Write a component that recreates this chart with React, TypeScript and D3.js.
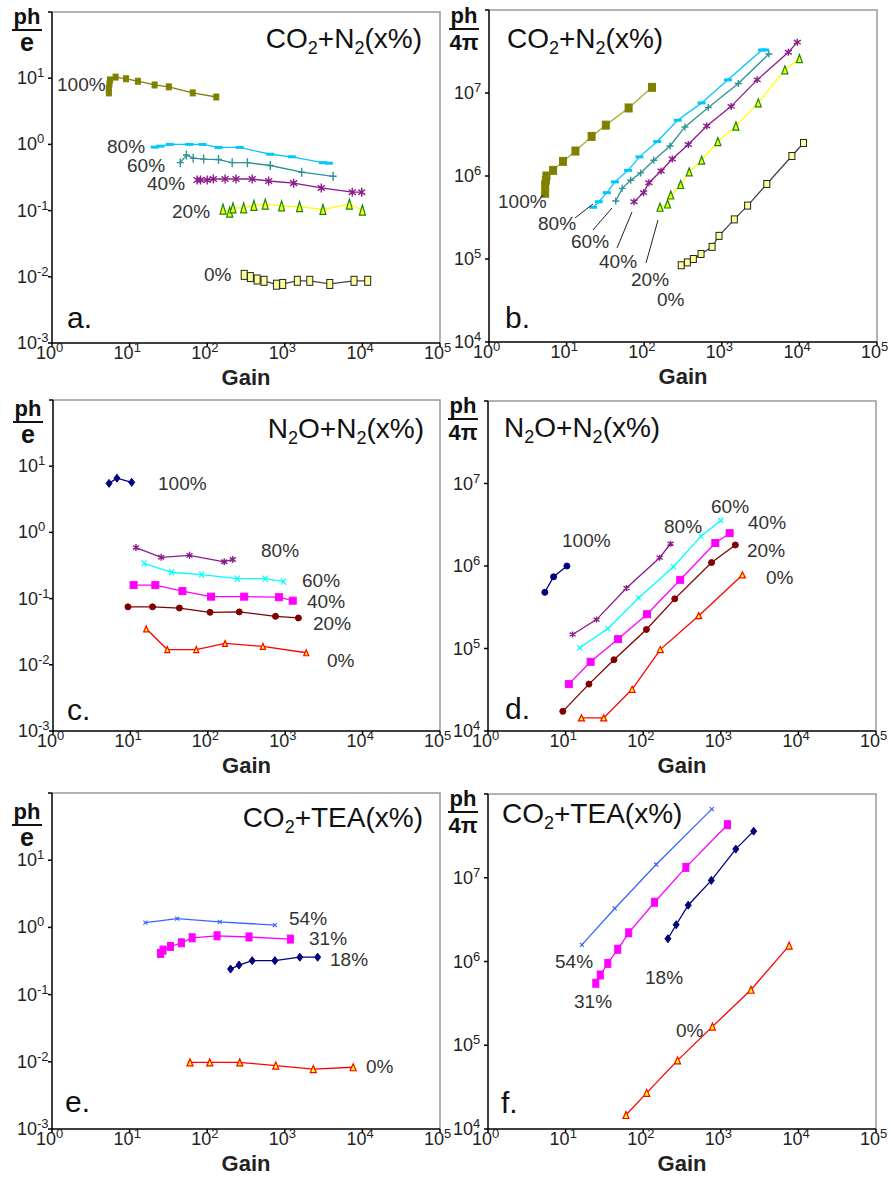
import React from "react";
import * as d3 from "d3";

type Pt = [number, number];

// ---- panel a: CO2+N2, ph/e ----
const a100: Pt[] = [[5.4, 6.0], [5.4, 7.0], [5.5, 8.2], [5.6, 9.4], [6.6, 10.4], [9.0, 9.8], [12.8, 9.0], [21, 7.9], [32, 7.4], [65, 6.0], [131, 5.2]];
const a80: Pt[] = [[21, 0.91], [25, 0.94], [33, 1.0], [59, 1.0], [87, 1.0], [140, 0.9], [262, 0.9], [650, 0.71], [1230, 0.65], [3100, 0.53], [3700, 0.52]];
const a60: Pt[] = [[45, 0.53], [54, 0.69], [66, 0.62], [90, 0.6], [140, 0.59], [210, 0.53], [330, 0.53], [650, 0.48], [1650, 0.38], [4200, 0.33]];
const a40: Pt[] = [[74, 0.29], [82, 0.29], [100, 0.29], [120, 0.3], [170, 0.3], [235, 0.3], [380, 0.3], [620, 0.28], [1300, 0.26], [2950, 0.22], [7400, 0.19], [9800, 0.19]];
const a20: Pt[] = [[160, 0.105], [195, 0.095], [215, 0.11], [295, 0.11], [400, 0.12], [560, 0.125], [910, 0.118], [1550, 0.115], [3100, 0.104], [6800, 0.125], [10000, 0.102]];
const a0: Pt[] = [[300, 0.0107], [360, 0.0099], [440, 0.0091], [540, 0.0087], [780, 0.0076], [940, 0.0078], [1450, 0.0087], [2100, 0.0087], [3800, 0.0078], [7800, 0.0087], [11700, 0.0087]];

// ---- panel b: CO2+N2, ph/4pi ----
const b100: Pt[] = [[5.3, 6.2e5], [5.3, 7.8e5], [5.4, 8.9e5], [5.5, 1.0e6], [6.7, 1.17e6], [9.0, 1.5e6], [13, 2.0e6], [21, 3.0e6], [32, 4.1e6], [63, 6.6e6], [126, 1.17e7]];
const b80: Pt[] = [[22, 4.2e5], [26, 4.9e5], [33, 6.3e5], [42, 8.5e5], [62, 1.17e6], [87, 1.7e6], [147, 2.6e6], [270, 4.7e6], [550, 7.6e6], [1200, 1.44e7], [3300, 3.3e7], [3600, 3.3e7]];
const b60: Pt[] = [[43, 5.0e5], [52, 7.1e5], [67, 8.9e5], [90, 1.09e6], [133, 1.55e6], [215, 2.3e6], [335, 3.9e6], [670, 6.7e6], [1630, 1.3e7], [4050, 2.95e7]];
const b40: Pt[] = [[74, 4.9e5], [98, 6.3e5], [115, 8.3e5], [165, 1.15e6], [230, 1.6e6], [370, 2.4e6], [640, 4.0e6], [1320, 6.9e6], [2850, 1.44e7], [7200, 3.1e7], [9400, 4.1e7]];
const b20: Pt[] = [[160, 4.2e5], [200, 4.6e5], [220, 5.9e5], [295, 7.9e5], [380, 1.12e6], [550, 1.55e6], [890, 2.6e6], [1520, 4.0e6], [2950, 7.6e6], [6500, 1.9e7], [10000, 2.6e7]];
const b0: Pt[] = [[300, 8.4e4], [360, 9.1e4], [430, 1.0e5], [540, 1.15e5], [750, 1.4e5], [920, 1.9e5], [1450, 3.0e5], [2150, 4.4e5], [3800, 8.0e5], [8000, 1.74e6], [11300, 2.5e6]];

// ---- panel c: N2O+N2, ph/e ----
const c100: Pt[] = [[5.3, 5.5], [6.7, 6.6], [10.4, 5.7]];
const c80: Pt[] = [[11.8, 0.59], [25, 0.42], [58, 0.45], [163, 0.36], [210, 0.39]];
const c60: Pt[] = [[15, 0.34], [34, 0.25], [83, 0.23], [240, 0.2], [550, 0.2], [950, 0.18]];
const c40: Pt[] = [[11, 0.16], [21, 0.16], [47, 0.13], [110, 0.107], [295, 0.107], [830, 0.105], [1250, 0.093]];
const c20: Pt[] = [[9.3, 0.075], [19.3, 0.075], [43, 0.072], [107, 0.062], [255, 0.063], [750, 0.054], [1480, 0.051]];
const c0: Pt[] = [[16, 0.035], [30, 0.017], [71, 0.017], [167, 0.021], [515, 0.019], [1870, 0.0152]];

// ---- panel d: N2O+N2, ph/4pi ----
const d100: Pt[] = [[5.4, 4.8e5], [7.0, 7.4e5], [10.4, 1.0e6]];
const d80: Pt[] = [[12.3, 1.48e5], [25, 2.24e5], [61, 5.4e5], [163, 1.26e6], [225, 1.86e6]];
const d60: Pt[] = [[15.2, 1.02e5], [35, 1.74e5], [87, 4.1e5], [246, 9.8e5], [555, 2.3e6], [1000, 3.56e6]];
const d40: Pt[] = [[11, 3.7e4], [21, 6.9e4], [47.5, 1.3e5], [112, 2.6e5], [300, 6.8e5], [850, 1.9e6], [1300, 2.5e6]];
const d20: Pt[] = [[9.2, 1.73e4], [20, 3.7e4], [42, 7.3e4], [110, 1.7e5], [255, 4.0e5], [760, 1.1e6], [1540, 1.8e6]];
const d0: Pt[] = [[16, 1.44e4], [31, 1.44e4], [72, 3.2e4], [166, 9.7e4], [520, 2.5e5], [1900, 7.8e5]];

// ---- panel e: CO2+TEA, ph/e ----
const e54: Pt[] = [[16, 1.18], [41, 1.35], [145, 1.21], [745, 1.08]];
const e31: Pt[] = [[25, 0.41], [27, 0.46], [33.6, 0.52], [46.5, 0.59], [64, 0.7], [134, 0.75], [346, 0.72], [1180, 0.67]];
const e18: Pt[] = [[200, 0.24], [257, 0.275], [380, 0.32], [745, 0.32], [1560, 0.36], [2650, 0.36]];
const e0: Pt[] = [[60, 0.0098], [108, 0.0098], [263, 0.0098], [765, 0.0088], [2330, 0.0078], [7600, 0.0083]];

// ---- panel f: CO2+TEA, ph/4pi ----
const f54: Pt[] = [[16.2, 1.58e6], [43, 4.3e6], [147, 1.44e7], [766, 6.6e7]];
const f31: Pt[] = [[24.5, 5.5e5], [28, 6.9e5], [35, 9.5e5], [47, 1.4e6], [65, 2.2e6], [140, 5.1e6], [355, 1.33e7], [1220, 4.3e7]];
const f18: Pt[] = [[208, 1.87e6], [266, 2.75e6], [380, 4.7e6], [755, 9.3e6], [1560, 2.2e7], [2650, 3.6e7]];
const f0: Pt[] = [[60, 1.47e4], [111, 2.7e4], [277, 6.6e4], [780, 1.67e5], [2450, 4.6e5], [7600, 1.55e6]];

const xTicks = [0, 1, 2, 3, 4, 5];
const yTicksE = [-3, -2, -1, 0, 1, 2];
const yTicksPi = [4, 5, 6, 7, 8];

const FONT = "'Liberation Sans', Arial, sans-serif";
const LABEL = "#333";

type Series = {
  data: Pt[];
  line: string;
  marker: string;
  mw: number;
  mh: number;
  fill: string;
  stroke: string;
  label: string;
  lx: number;
  ly: number;
};

type PanelCfg = {
  left: number; top: number; right: number; bottom: number;
  yTicks: number[];
  unit: string;
  barY: number;
  title: [string, boolean][];
  tx: number; ty: number; anchor: string;
  letter: string; letX: number; letY: number;
  series: Series[];
  leaders?: [number, number, number, number][];
};

const Marker = ({ t, x, y, w, h, fill, stroke }: any) => {
  const hw = w / 2, hh = h / 2;
  switch (t) {
    case "square":
      return <rect x={x - hw} y={y - hh} width={w} height={h} fill={fill} stroke={stroke} strokeWidth={1} />;
    case "dash":
      return <rect x={x - hw} y={y - hh} width={w} height={h} fill={fill} />;
    case "plus":
      return <path d={`M${x - hw},${y}H${x + hw}M${x},${y - hh}V${y + hh}`} stroke={stroke} strokeWidth={1.4} />;
    case "star":
      return <path d={`M${x - hw},${y - hh * 0.6}L${x + hw},${y + hh * 0.6}M${x - hw},${y + hh * 0.6}L${x + hw},${y - hh * 0.6}M${x},${y - hh}V${y + hh}`} stroke={stroke} strokeWidth={1.4} />;
    case "cross":
      return <path d={`M${x - hw},${y - hh}L${x + hw},${y + hh}M${x - hw},${y + hh}L${x + hw},${y - hh}`} stroke={stroke} strokeWidth={1.2} />;
    case "tri":
      return <path d={`M${x},${y - hh}L${x + hw},${y + hh}L${x - hw},${y + hh}Z`} fill={fill} stroke={stroke} strokeWidth={1.2} />;
    case "diamond":
      return <path d={`M${x},${y - hh}L${x + hw},${y}L${x},${y + hh}L${x - hw},${y}Z`} fill={fill} stroke={stroke} strokeWidth={1} />;
    case "circle":
      return <ellipse cx={x} cy={y} rx={hw} ry={hh} fill={fill} stroke={stroke} strokeWidth={1} />;
    default:
      return null;
  }
};

const Pow = ({ x, y, e }: any) => (
  <text x={x} y={y} fontFamily={FONT} fontSize={18} fill="#222">
    10<tspan fontSize={13} dy={-7}>{e}</tspan>
  </text>
);

const Panel = ({ p }: { p: PanelCfg }) => {
  const yMin = Math.pow(10, p.yTicks[0]);
  const yMax = Math.pow(10, p.yTicks[p.yTicks.length - 1]);
  const x = d3.scaleLog().domain([1, 1e5]).range([p.left, p.right]);
  const y = d3.scaleLog().domain([yMin, yMax]).range([p.bottom, p.top]);
  const line = d3.line<Pt>().x((d) => x(d[0])).y((d) => y(d[1]));
  const cx = p.left - 25;
  return (
    <g>
      {/* frame */}
      <path d={`M${p.left},${p.top}H${p.right}V${p.bottom}`} fill="none" stroke="#999" strokeWidth={1.5} />
      <path d={`M${p.left},${p.top}V${p.bottom}H${p.right}`} fill="none" stroke="#000" strokeWidth={1.5} />
      {xTicks.map((e) => (
        <g key={"x" + e}>
          <line x1={x(Math.pow(10, e))} x2={x(Math.pow(10, e))} y1={p.bottom} y2={p.bottom + 4} stroke="#000" strokeWidth={1.5} />
          <Pow x={x(Math.pow(10, e)) - 16} y={p.bottom + 16} e={e} />
        </g>
      ))}
      {p.yTicks.map((e, i) => (
        <g key={"y" + e}>
          <line x1={p.left - 4} x2={p.left} y1={y(Math.pow(10, e))} y2={y(Math.pow(10, e))} stroke="#000" strokeWidth={1.5} />
          {i < p.yTicks.length - 1 && <Pow x={p.left - 35} y={y(Math.pow(10, e)) + 6} e={e} />}
        </g>
      ))}
      <text x={(p.left + p.right) / 2} y={p.bottom + 42} textAnchor="middle" fontFamily={FONT} fontSize={22} fontWeight="bold" fill="#222">Gain</text>
      {/* y unit */}
      <text x={cx} y={p.barY - 6} textAnchor="middle" fontFamily={FONT} fontSize={22} fontWeight="bold" fill="#111">ph</text>
      <line x1={cx - 15} x2={cx + 15} y1={p.barY} y2={p.barY} stroke="#111" strokeWidth={2} />
      <text x={cx} y={p.barY + 21} textAnchor="middle" fontFamily={FONT} fontSize={p.unit === "e" ? 25 : 22} fontWeight="bold" fill="#111">{p.unit}</text>
      {/* title */}
      <text x={p.tx} y={p.ty} textAnchor={p.anchor} fontFamily={FONT} fontSize={28} fill="#111">
        {p.title.map(([s, sub], i) => (
          <tspan key={i} fontSize={sub ? 18 : 28} dy={sub ? 6 : i > 0 && p.title[i - 1][1] ? -6 : 0}>{s}</tspan>
        ))}
      </text>
      <text x={p.letX} y={p.letY} fontFamily={FONT} fontSize={30} fill="#111">{p.letter}</text>
      {/* series */}
      {p.series.map((s, i) => (
        <g key={i}>
          <path d={line(s.data) || ""} fill="none" stroke={s.line} strokeWidth={1.3} />
          {s.data.map((d, j) => (
            <Marker key={j} t={s.marker} x={x(d[0])} y={y(d[1])} w={s.mw} h={s.mh} fill={s.fill} stroke={s.stroke} />
          ))}
          <text x={s.lx} y={s.ly} fontFamily={FONT} fontSize={19} fill={LABEL}>{s.label}</text>
        </g>
      ))}
      {(p.leaders || []).map((l, i) => (
        <line key={"l" + i} x1={l[0]} y1={l[1]} x2={l[2]} y2={l[3]} stroke="#222" strokeWidth={1} />
      ))}
    </g>
  );
};

const titleCO2N2: [string, boolean][] = [["CO", false], ["2", true], ["+N", false], ["2", true], ["(x%)", false]];
const titleN2O: [string, boolean][] = [["N", false], ["2", true], ["O+N", false], ["2", true], ["(x%)", false]];
const titleTEA: [string, boolean][] = [["CO", false], ["2", true], ["+TEA(x%)", false]];

const OLIVE = "#808000", SKY = "#00c8ff", TEAL = "#2f9393", PURPLE = "#8b1a8b", YEL = "#ffff00", GREEN = "#118811";
const NAVY = "#000080", CYAN = "#00ffff", MAG = "#ff00ff", MAROON = "#800000", RED = "#ff0000", BLUE = "#3a66ff";

const panels: PanelCfg[] = [
  {
    left: 52, top: 12, right: 440, bottom: 343, yTicks: yTicksE, unit: "e", barY: 30,
    title: titleCO2N2, tx: 422, ty: 48, anchor: "end", letter: "a.", letX: 67, letY: 328,
    series: [
      { data: a100, line: OLIVE, marker: "square", mw: 5, mh: 6, fill: OLIVE, stroke: OLIVE, label: "100%", lx: 57, ly: 91 },
      { data: a80, line: SKY, marker: "dash", mw: 8, mh: 3, fill: SKY, stroke: SKY, label: "80%", lx: 107, ly: 153 },
      { data: a60, line: TEAL, marker: "plus", mw: 7, mh: 9, fill: TEAL, stroke: TEAL, label: "60%", lx: 127, ly: 172 },
      { data: a40, line: PURPLE, marker: "star", mw: 7, mh: 9, fill: PURPLE, stroke: PURPLE, label: "40%", lx: 147, ly: 190 },
      { data: a20, line: YEL, marker: "tri", mw: 6, mh: 10, fill: YEL, stroke: GREEN, label: "20%", lx: 172, ly: 218 },
      { data: a0, line: "#444", marker: "square", mw: 6, mh: 9, fill: "#ffff99", stroke: "#222", label: "0%", lx: 204, ly: 281 },
    ],
  },
  {
    left: 489, top: 10, right: 877, bottom: 342, yTicks: yTicksPi, unit: "4π", barY: 29,
    title: titleCO2N2, tx: 507, ty: 48, anchor: "start", letter: "b.", letX: 505, letY: 328,
    series: [
      { data: b100, line: "#9ab830", marker: "square", mw: 7, mh: 8, fill: OLIVE, stroke: OLIVE, label: "100%", lx: 498, ly: 208 },
      { data: b80, line: SKY, marker: "dash", mw: 8, mh: 3, fill: SKY, stroke: SKY, label: "80%", lx: 538, ly: 230 },
      { data: b60, line: TEAL, marker: "plus", mw: 7, mh: 7, fill: TEAL, stroke: TEAL, label: "60%", lx: 571, ly: 248 },
      { data: b40, line: PURPLE, marker: "star", mw: 7, mh: 7, fill: PURPLE, stroke: PURPLE, label: "40%", lx: 599, ly: 268 },
      { data: b20, line: YEL, marker: "tri", mw: 6, mh: 8, fill: YEL, stroke: GREEN, label: "20%", lx: 631, ly: 286 },
      { data: b0, line: "#444", marker: "square", mw: 6, mh: 7, fill: "#ffff99", stroke: "#222", label: "0%", lx: 657, ly: 306 },
    ],
    leaders: [[575, 218, 593, 204], [593, 230, 612, 208], [617, 248, 632, 212], [646, 263, 658, 220]],
  },
  {
    left: 53, top: 400, right: 440, bottom: 731, yTicks: yTicksE, unit: "e", barY: 422,
    title: titleN2O, tx: 424, ty: 438, anchor: "end", letter: "c.", letX: 67, letY: 720,
    series: [
      { data: c100, line: NAVY, marker: "diamond", mw: 6, mh: 8, fill: NAVY, stroke: NAVY, label: "100%", lx: 158, ly: 490 },
      { data: c80, line: PURPLE, marker: "star", mw: 6, mh: 7, fill: PURPLE, stroke: PURPLE, label: "80%", lx: 261, ly: 557 },
      { data: c60, line: CYAN, marker: "cross", mw: 5, mh: 6, fill: CYAN, stroke: CYAN, label: "60%", lx: 302, ly: 587 },
      { data: c40, line: MAG, marker: "square", mw: 7, mh: 7, fill: MAG, stroke: MAG, label: "40%", lx: 307, ly: 608 },
      { data: c20, line: MAROON, marker: "circle", mw: 6, mh: 6, fill: MAROON, stroke: MAROON, label: "20%", lx: 313, ly: 630 },
      { data: c0, line: RED, marker: "tri", mw: 5, mh: 6, fill: YEL, stroke: RED, label: "0%", lx: 327, ly: 667 },
    ],
  },
  {
    left: 488, top: 401, right: 876, bottom: 731, yTicks: yTicksPi, unit: "4π", barY: 419,
    title: titleN2O, tx: 504, ty: 437, anchor: "start", letter: "d.", letX: 505, letY: 719,
    series: [
      { data: d100, line: NAVY, marker: "circle", mw: 6, mh: 6, fill: NAVY, stroke: NAVY, label: "100%", lx: 562, ly: 547 },
      { data: d80, line: PURPLE, marker: "star", mw: 6, mh: 6, fill: PURPLE, stroke: PURPLE, label: "80%", lx: 664, ly: 533 },
      { data: d60, line: CYAN, marker: "cross", mw: 5, mh: 5, fill: CYAN, stroke: CYAN, label: "60%", lx: 711, ly: 513 },
      { data: d40, line: MAG, marker: "square", mw: 7, mh: 7, fill: MAG, stroke: MAG, label: "40%", lx: 748, ly: 529 },
      { data: d20, line: MAROON, marker: "circle", mw: 6, mh: 6, fill: MAROON, stroke: MAROON, label: "20%", lx: 747, ly: 557 },
      { data: d0, line: RED, marker: "tri", mw: 6, mh: 6, fill: YEL, stroke: RED, label: "0%", lx: 766, ly: 584 },
    ],
  },
  {
    left: 52, top: 793, right: 440, bottom: 1129, yTicks: yTicksE, unit: "e", barY: 825,
    title: titleTEA, tx: 423, ty: 827, anchor: "end", letter: "e.", letX: 65, letY: 1112,
    series: [
      { data: e54, line: BLUE, marker: "cross", mw: 4, mh: 4, fill: BLUE, stroke: BLUE, label: "54%", lx: 289, ly: 925 },
      { data: e31, line: MAG, marker: "square", mw: 6, mh: 8, fill: MAG, stroke: MAG, label: "31%", lx: 309, ly: 945 },
      { data: e18, line: NAVY, marker: "diamond", mw: 6, mh: 8, fill: NAVY, stroke: NAVY, label: "18%", lx: 330, ly: 966 },
      { data: e0, line: RED, marker: "tri", mw: 6, mh: 7, fill: YEL, stroke: RED, label: "0%", lx: 366, ly: 1073 },
    ],
  },
  {
    left: 488, top: 794, right: 876, bottom: 1129, yTicks: yTicksPi, unit: "4π", barY: 812,
    title: titleTEA, tx: 502, ty: 823, anchor: "start", letter: "f.", letX: 501, letY: 1113,
    series: [
      { data: f54, line: BLUE, marker: "cross", mw: 4, mh: 4, fill: BLUE, stroke: BLUE, label: "54%", lx: 555, ly: 968 },
      { data: f31, line: MAG, marker: "square", mw: 6, mh: 8, fill: MAG, stroke: MAG, label: "31%", lx: 574, ly: 1008 },
      { data: f18, line: NAVY, marker: "diamond", mw: 6, mh: 8, fill: NAVY, stroke: NAVY, label: "18%", lx: 645, ly: 984 },
      { data: f0, line: RED, marker: "tri", mw: 6, mh: 7, fill: YEL, stroke: RED, label: "0%", lx: 676, ly: 1037 },
    ],
  },
];

export default function App() {
  return (
    <svg width={891} height={1177} style={{ position: "absolute", left: 0, top: 0, background: "#fff" }}>
      {panels.map((p, i) => (
        <Panel key={i} p={p} />
      ))}
    </svg>
  );
}
